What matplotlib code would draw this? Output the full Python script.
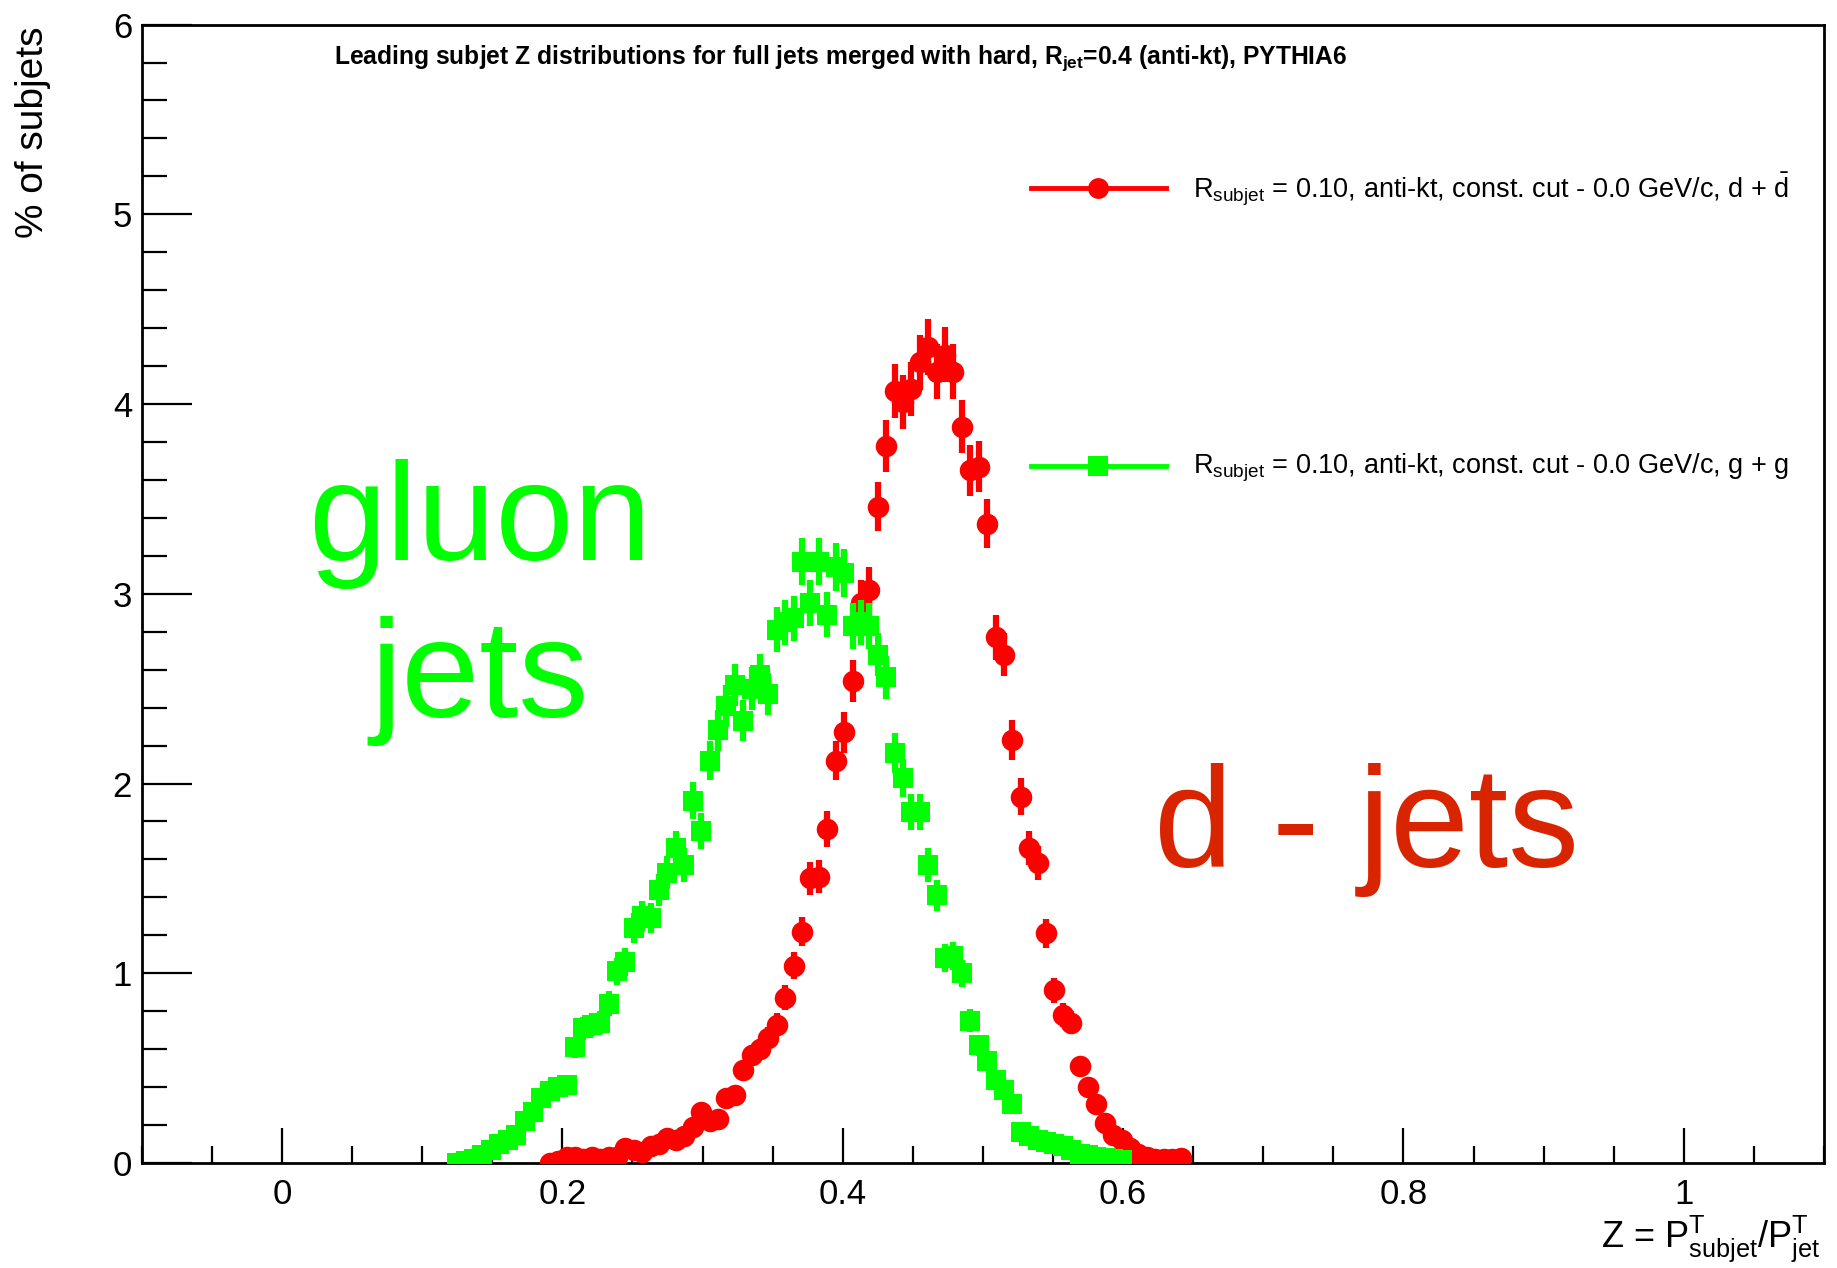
import numpy as np
import matplotlib.pyplot as plt
from matplotlib.lines import Line2D
from matplotlib.ticker import MultipleLocator, FuncFormatter

plt.rcParams['font.family'] = ['Liberation Sans', 'DejaVu Sans']
plt.rcParams['mathtext.fontset'] = 'custom'
plt.rcParams['mathtext.rm'] = 'Liberation Sans'
plt.rcParams['mathtext.it'] = 'Liberation Sans:italic'
plt.rcParams['mathtext.bf'] = 'Liberation Sans:bold'

# histogram binning (200 bins over the drawn range)
n_bins = 200
z_min, z_max = -0.1, 1.1
n_jets = 20000  # jets per sample, for the statistical errors

# d + dbar jets, % of subjets per bin, starting at bin 48
d_first_bin = 48
d_jets = [0.00, 0.01, 0.03, 0.03, 0.02, 0.03, 0.02, 0.03, 0.03, 0.08,
          0.07, 0.06, 0.09, 0.10, 0.13, 0.12, 0.14, 0.19, 0.27, 0.22,
          0.23, 0.34, 0.36, 0.49, 0.57, 0.60, 0.66, 0.73, 0.87, 1.04,
          1.22, 1.50, 1.51, 1.76, 2.12, 2.27, 2.54, 2.95, 3.02, 3.46,
          3.78, 4.07, 4.01, 4.08, 4.22, 4.30, 4.17, 4.26, 4.17, 3.88,
          3.65, 3.67, 3.37, 2.77, 2.68, 2.23, 1.93, 1.66, 1.58, 1.21,
          0.91, 0.78, 0.74, 0.51, 0.40, 0.31, 0.21, 0.15, 0.12, 0.08,
          0.05, 0.03, 0.02, 0.02, 0.02, 0.025]

# g + g jets, starting at bin 37
g_first_bin = 37
g_jets = [0.00, 0.01, 0.02, 0.04, 0.07, 0.10, 0.12, 0.15, 0.22, 0.27,
          0.34, 0.38, 0.40, 0.41, 0.61, 0.71, 0.73, 0.74, 0.84, 1.01,
          1.06, 1.24, 1.30, 1.29, 1.44, 1.53, 1.66, 1.57, 1.91, 1.75,
          2.12, 2.28, 2.41, 2.52, 2.33, 2.50, 2.57, 2.47, 2.81, 2.85,
          2.87, 3.17, 2.95, 3.17, 2.89, 3.14, 3.11, 2.83, 2.85, 2.83,
          2.68, 2.56, 2.16, 2.03, 1.85, 1.85, 1.57, 1.41, 1.08, 1.09,
          1.00, 0.75, 0.62, 0.54, 0.44, 0.385, 0.31, 0.165, 0.14, 0.12,
          0.11, 0.10, 0.09, 0.07, 0.05, 0.04, 0.03, 0.025, 0.02, 0.015]

edges = np.linspace(z_min, z_max, n_bins + 1)
centers = 0.5 * (edges[:-1] + edges[1:])


def hist_points(first_bin, values):
    v = np.array(values)
    z = centers[first_bin:first_bin + len(v)]
    err = np.sqrt(v * n_jets / 100.0) / n_jets * 100.0
    return z, v, err


fig = plt.figure(figsize=(18.37, 12.68), dpi=100)
ax = fig.add_axes([0.0772, 0.0828, 0.9157, 0.8978])

red = '#ff0000'
green = '#00ff00'

z, v, e = hist_points(d_first_bin, d_jets)
ax.errorbar(z, v, yerr=e, fmt='o', color=red, ms=15.5, elinewidth=4.5,
            capsize=0, mew=0, zorder=3)
z, v, e = hist_points(g_first_bin, g_jets)
ax.errorbar(z, v, yerr=e, fmt='s', color=green, ms=15, elinewidth=4.5,
            capsize=0, mew=0, zorder=4)

ax.set_xlim(z_min, z_max)
ax.set_ylim(0, 6)

ax.xaxis.set_major_locator(MultipleLocator(0.2))
ax.xaxis.set_minor_locator(MultipleLocator(0.05))
ax.yaxis.set_major_locator(MultipleLocator(1))
ax.yaxis.set_minor_locator(MultipleLocator(0.2))
fmt = FuncFormatter(lambda t, p: f'{round(t, 6) + 0.0:g}')
ax.xaxis.set_major_formatter(fmt)
ax.yaxis.set_major_formatter(fmt)

ax.tick_params(axis='both', which='both', direction='in', top=False, right=False,
               labelsize=25, width=1.6, color='black')
ax.tick_params(axis='x', which='major', length=25, pad=11)
ax.tick_params(axis='x', which='minor', length=12.5)
ax.tick_params(axis='y', which='major', length=36, pad=7)
ax.tick_params(axis='y', which='minor', length=18)
for s in ax.spines.values():
    s.set_linewidth(2)

# axis titles, ROOT style (right / top aligned)
fig.text(0.9908, 0.0165, r'Z = P$^{\rm T}_{\rm subjet}$/P$^{\rm T}_{\rm jet}$',
         fontsize=26, ha='right', va='baseline')
fig.text(0.018, 0.979, '% of subjets', fontsize=28, rotation=90,
         ha='center', va='top')

fig.text(0.4574, 0.950,
         r'Leading subjet Z distributions for full jets merged with hard, '
         r'R$_{\mathbf{jet}}$=0.4 (anti-kt), PYTHIA6',
         fontsize=17.7, fontweight='bold', ha='center', va='baseline')

# legend entries
leg_items = [
    (0.8521, 0.8440, red, 'o',
     r'R$_{\rm subjet}$ = 0.10, anti-kt, const. cut - 0.0 GeV/c, d + $\bar{\rm d}$'),
    (0.6325, 0.6268, green, 's',
     r'R$_{\rm subjet}$ = 0.10, anti-kt, const. cut - 0.0 GeV/c, g + g'),
]
for y_line, y_text, col, mk, label in leg_items:
    fig.add_artist(Line2D([0.5612, 0.6347], [y_line, y_line], color=col, lw=3.5,
                          transform=fig.transFigure))
    fig.add_artist(Line2D([0.5977], [y_line], color=col, marker=mk, ms=15, mew=0,
                          transform=fig.transFigure))
    fig.text(0.6494, y_text, label, fontsize=19.5, ha='left', va='baseline')

# big labels
fig.text(0.2613, 0.5584, 'gluon', fontsize=101, color=green, ha='center', va='baseline')
fig.text(0.2613, 0.4345, 'jets', fontsize=101, color=green, ha='center', va='baseline')
fig.text(0.6282, 0.3162, 'd - jets', fontsize=102, color='#d92400', ha='left', va='baseline')

fig.savefig('out.png', dpi=100)
